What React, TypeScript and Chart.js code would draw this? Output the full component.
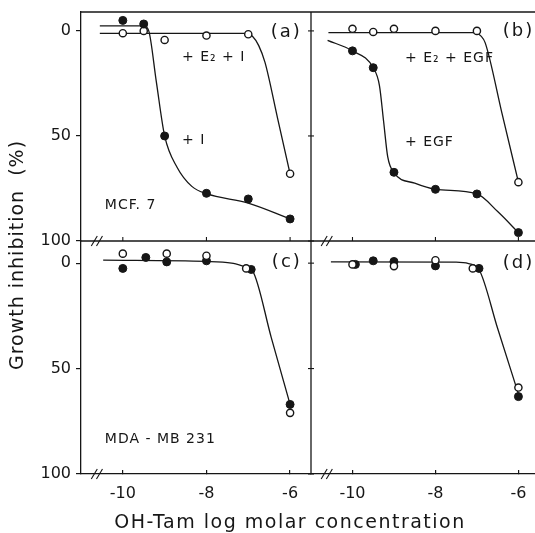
import React, { useEffect, useRef } from 'react';
import { Chart, registerables } from 'chart.js';

Chart.register(...registerables);

const INK = '#161616';
const FONT = '"DejaVu Sans", sans-serif';

// ---- axis ticks ----
const X_TICKS = [-10, -8, -6];
const Y_TICKS = [0, 50, 100];

// ---- Panel (a): MCF 7 ----
const A_I_X = [-10, -9.5, -9, -8, -7, -6];
const A_I_Y = [-5, -3.3, 50, 77.3, 80, 89.5];
const A_E2I_X = [-10, -9.5, -9, -8, -7, -6];
const A_E2I_Y = [1.1, 0, 4.3, 2.2, 1.6, 68];
const A_I_FIT_X = [-10.55, -9.5, -9.38, -9.2, -9.0, -8.7, -8.35, -8.0, -7.0, -6.0];
const A_I_FIT_Y = [-2.4, -2.4, 0, 24, 50, 65, 74, 77.5, 82, 89.5];
const A_E2I_FIT_X = [-10.55, -7.05, -6.9, -6.75, -6.6, -6.3, -6.0];
const A_E2I_FIT_Y = [1.2, 1.2, 2.5, 7, 15, 41.5, 68];

// ---- Panel (b): MCF 7 + EGF ----
const B_EGF_X = [-10, -9.5, -9, -8, -7, -6];
const B_EGF_Y = [9.5, 17.5, 67.3, 75.4, 77.6, 96];
const B_E2EGF_X = [-10, -9.5, -9, -8, -7, -6];
const B_E2EGF_Y = [-1, 0.5, -1, 0, 0, 72];
const B_EGF_FIT_X = [-10.6, -10, -9.5, -9.35, -9.25, -9.15, -9, -8.5, -8, -7, -6.5, -6];
const B_EGF_FIT_Y = [4.5, 9.5, 17.5, 26, 43, 60, 67.5, 72.5, 75.4, 77.6, 86, 96];
const B_E2EGF_FIT_X = [-10.58, -7.05, -6.9, -6.8, -6.4, -6.0];
const B_E2EGF_FIT_Y = [0.8, 0.8, 2.5, 5.7, 38.9, 72];

// ---- Panel (c): MDA-MB 231 + I ----
const C_OPEN_X = [-10, -8.95, -8, -7.05, -6];
const C_OPEN_Y = [-4.5, -4.5, -3.5, 2.5, 71];
const C_FILLED_X = [-10, -9.45, -8.95, -8, -6.93, -6];
const C_FILLED_Y = [2.5, -2.7, -0.6, -1.1, 3, 67];
const C_FIT_X = [-10.47, -8.0, -7.4, -7.1, -6.9, -6.45, -6.0];
const C_FIT_Y = [-1.4, -0.8, 0, 1.5, 3.5, 35.3, 67];

// ---- Panel (d): MDA-MB 231 + EGF ----
const D_OPEN_X = [-10, -9, -8, -7.1, -6];
const D_OPEN_Y = [0.6, 1.4, -1.4, 2.5, 59];
const D_FILLED_X = [-9.93, -9.5, -9, -8, -6.95, -6];
const D_FILLED_Y = [0.6, -1.1, -0.8, 1.3, 2.5, 63.3];
const D_FIT_X = [-10.52, -7.5, -7.2, -6.95, -6.5, -6.0];
const D_FIT_Y = [-0.6, -0.5, 0.2, 3, 31, 62];

// ---- texts ----
const X_TITLE = 'OH-Tam log molar concentration';
const Y_TITLE = 'Growth inhibition  (%)';
const PANEL_TEXTS = [
  { text: '(a)', x: -5.72, y: 0.5, xAxis: 'xL', yAxis: 'yT', align: 'right', size: 18, spacing: 2 },
  { text: '(b)', x: -5.62, y: 0.3, xAxis: 'xR', yAxis: 'yT', align: 'right', size: 18, spacing: 2 },
  { text: '(c)', x: -5.72, y: -0.6, xAxis: 'xL', yAxis: 'yB', align: 'right', size: 18, spacing: 2 },
  { text: '(d)', x: -5.62, y: -0.1, xAxis: 'xR', yAxis: 'yB', align: 'right', size: 18, spacing: 2 },
  { text: '+ E₂ + I', x: -8.585, y: 12.4, xAxis: 'xL', yAxis: 'yT', align: 'left', size: 14, spacing: 1 },
  { text: '+ I', x: -8.585, y: 51.9, xAxis: 'xL', yAxis: 'yT', align: 'left', size: 14, spacing: 1 },
  { text: 'MCF. 7', x: -10.43, y: 82.9, xAxis: 'xL', yAxis: 'yT', align: 'left', size: 14, spacing: 1 },
  { text: '+ E₂ + EGF', x: -8.734, y: 12.9, xAxis: 'xR', yAxis: 'yT', align: 'left', size: 14, spacing: 1 },
  { text: '+ EGF', x: -8.734, y: 52.9, xAxis: 'xR', yAxis: 'yT', align: 'left', size: 14, spacing: 1 },
  { text: 'MDA - MB 231', x: -10.43, y: 83.8, xAxis: 'xL', yAxis: 'yB', align: 'left', size: 14, spacing: 1 },
];
const BREAK_X = -10.62;

const zip = (xs: number[], ys: number[]) => xs.map((x, i) => ({ x, y: ys[i] }));

function marks(xs: number[], ys: number[], filled: boolean, xAxisID: string, yAxisID: string) {
  return {
    data: zip(xs, ys),
    xAxisID,
    yAxisID,
    showLine: false,
    order: 0,
    pointRadius: filled ? 4 : 3.6,
    pointHoverRadius: filled ? 4 : 3.6,
    pointBackgroundColor: filled ? INK : '#ffffff',
    pointBorderColor: INK,
    pointBorderWidth: filled ? 1 : 1.4,
  };
}

function curve(xs: number[], ys: number[], xAxisID: string, yAxisID: string) {
  return {
    data: zip(xs, ys),
    xAxisID,
    yAxisID,
    showLine: true,
    order: 1,
    pointRadius: 0,
    pointHoverRadius: 0,
    borderColor: INK,
    borderWidth: 1.3,
    cubicInterpolationMode: 'monotone',
    fill: false,
  };
}

function xScale(min: number, max: number, weight: number) {
  return {
    type: 'linear',
    position: 'bottom',
    stack: 'x',
    stackWeight: weight,
    min,
    max,
    afterBuildTicks: (s: any) => {
      s.ticks = X_TICKS.map((v) => ({ value: v }));
    },
    afterFit: (s: any) => {
      s.height = 59;
      s.paddingLeft = 0;
      s.paddingRight = 0;
    },
    grid: { display: true, drawOnChartArea: false, drawTicks: true, tickLength: -4, color: INK, lineWidth: 1.2 },
    border: { display: true, color: INK, width: 1.3 },
    ticks: {
      color: INK,
      font: { family: FONT, size: 16 },
      padding: 14,
      maxRotation: 0,
      autoSkip: false,
      callback: (v: any) => String(v),
    },
  };
}

function yScale(min: number, weight: number) {
  return {
    type: 'linear',
    position: 'left',
    stack: 'y',
    stackWeight: weight,
    min,
    max: 100,
    reverse: true,
    afterBuildTicks: (s: any) => {
      s.ticks = Y_TICKS.map((v) => ({ value: v }));
    },
    afterFit: (s: any) => {
      s.width = 81;
      s.paddingTop = 0;
      s.paddingBottom = 0;
    },
    grid: { display: true, drawOnChartArea: false, drawTicks: true, tickLength: 5, color: INK, lineWidth: 1.2 },
    border: { display: true, color: INK, width: 1.3 },
    ticks: {
      color: INK,
      font: { family: FONT, size: 16 },
      padding: 5,
      autoSkip: false,
      callback: (v: any) => String(v),
    },
  };
}

const framePlugin = {
  id: 'frame',
  beforeDatasetsDraw(chart: any) {
    const { ctx, chartArea: ca, scales } = chart;
    const { xL, xR, yT, yB } = scales;
    const line = (x1: number, y1: number, x2: number, y2: number) => {
      ctx.beginPath();
      ctx.moveTo(x1, y1);
      ctx.lineTo(x2, y2);
      ctx.stroke();
    };
    ctx.save();
    ctx.strokeStyle = INK;
    ctx.lineWidth = 1.3;
    line(ca.left, ca.top, ca.right, ca.top);
    line(xR.left, ca.top, xR.left, ca.bottom);
    line(ca.left, yB.top, ca.right, yB.top);
    ctx.lineWidth = 1.1;
    for (const s of [xL, xR]) {
      for (const t of s.ticks) {
        const px = s.getPixelForValue(t.value);
        line(px, yB.top, px, yB.top - 4);
      }
    }
    for (const s of [yT, yB]) {
      for (const t of s.ticks) {
        const py = s.getPixelForValue(t.value);
        line(xR.left - 3, py, xR.left + 3, py);
      }
    }
    for (const s of [xL, xR]) {
      const px = s.getPixelForValue(BREAK_X);
      for (const py of [yB.top, ca.bottom]) {
        for (const dx of [-2.6, 2.6]) {
          line(px + dx - 3, py + 5, px + dx + 3, py - 5);
        }
      }
    }
    ctx.restore();
  },
  afterDraw(chart: any) {
    const { ctx, scales } = chart;
    ctx.save();
    ctx.fillStyle = INK;
    ctx.textBaseline = 'middle';
    for (const t of PANEL_TEXTS) {
      const px = scales[t.xAxis].getPixelForValue(t.x);
      const py = scales[t.yAxis].getPixelForValue(t.y);
      ctx.font = `${t.size}px ${FONT}`;
      (ctx as any).letterSpacing = `${t.spacing}px`;
      ctx.textAlign = t.align;
      ctx.fillText(t.text, px, py);
    }
    // axis titles
    ctx.font = `19px ${FONT}`;
    (ctx as any).letterSpacing = '1.5px';
    ctx.textAlign = 'center';
    ctx.fillText(X_TITLE, 290, 523);
    ctx.translate(18, 255);
    ctx.rotate(-Math.PI / 2);
    (ctx as any).letterSpacing = '1px';
    ctx.fillText(Y_TITLE, 0, 0);
    ctx.restore();
  },
};

export default function App() {
  const ref = useRef<HTMLCanvasElement | null>(null);
  useEffect(() => {
    if (!ref.current) return;
    const chart = new Chart(ref.current, {
      type: 'scatter',
      data: {
        datasets: [
          marks(A_I_X, A_I_Y, true, 'xL', 'yT'),
          marks(A_E2I_X, A_E2I_Y, false, 'xL', 'yT'),
          marks(B_EGF_X, B_EGF_Y, true, 'xR', 'yT'),
          marks(B_E2EGF_X, B_E2EGF_Y, false, 'xR', 'yT'),
          marks(C_OPEN_X, C_OPEN_Y, false, 'xL', 'yB'),
          marks(C_FILLED_X, C_FILLED_Y, true, 'xL', 'yB'),
          marks(D_OPEN_X, D_OPEN_Y, false, 'xR', 'yB'),
          marks(D_FILLED_X, D_FILLED_Y, true, 'xR', 'yB'),
          curve(A_I_FIT_X, A_I_FIT_Y, 'xL', 'yT'),
          curve(A_E2I_FIT_X, A_E2I_FIT_Y, 'xL', 'yT'),
          curve(B_EGF_FIT_X, B_EGF_FIT_Y, 'xR', 'yT'),
          curve(B_E2EGF_FIT_X, B_E2EGF_FIT_Y, 'xR', 'yT'),
          curve(C_FIT_X, C_FIT_Y, 'xL', 'yB'),
          curve(D_FIT_X, D_FIT_Y, 'xR', 'yB'),
        ] as any,
      },
      options: {
        animation: false,
        responsive: false,
        devicePixelRatio: 1,
        layout: { autoPadding: false, padding: { top: 12, left: 0, right: 0, bottom: 0 } },
        plugins: { legend: { display: false }, tooltip: { enabled: false }, title: { display: false } },
        events: [],
        scales: {
          xL: xScale(-11, -5.5, 230),
          xR: xScale(-11, -5.6, 224),
          yB: yScale(-10.5, 233),
          yT: yScale(-9, 229),
        } as any,
      },
      plugins: [framePlugin],
    });
    return () => chart.destroy();
  }, []);
  return (
    <div style={{ position: 'fixed', left: 0, top: 0, width: 535, height: 533, background: '#fff' }}>
      <canvas ref={ref} width={535} height={533} style={{ display: 'block' }} />
    </div>
  );
}
